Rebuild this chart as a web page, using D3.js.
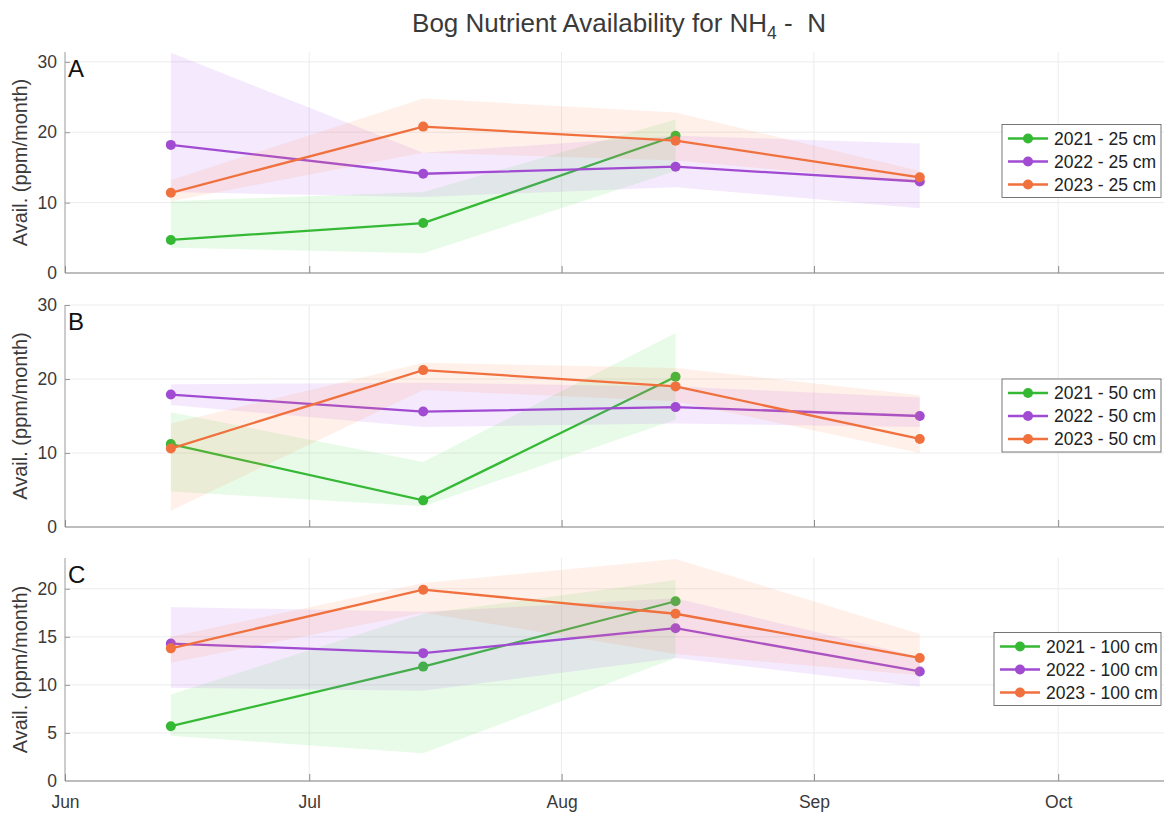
<!DOCTYPE html>
<html>
<head>
<meta charset="utf-8">
<script src="https://cdn.jsdelivr.net/npm/d3@7"></script>
<style>
  html, body { margin: 0; padding: 0; background: #fff; }
  svg { display: block; font-family: "Liberation Sans", Arial, Helvetica, sans-serif; }
  .keep-space { white-space: pre; }
</style>
</head>
<body>
<svg id="chart" width="1166" height="813"></svg>
<script>
// Sampling dates (month-day) shared by every year and depth
const sampleDates = ["06-14", "07-15", "08-15", "09-14"];
const years = ["2021", "2022", "2023"];
const depths = ["25 cm", "50 cm", "100 cm"];
const panelLetters = ["A", "B", "C"];
const monthTicks = ["06-01", "07-01", "08-01", "09-01", "10-01"];
const monthLabels = ["Jun", "Jul", "Aug", "Sep", "Oct"];
const yTicksA = [0, 10, 20, 30];
const yTicksB = [0, 10, 20, 30];
const yTicksC = [0, 5, 10, 15, 20];
const yMaxA = 31.4, yMaxB = 30, yMaxC = 23.2;

// 25 cm: mean and spread bounds, rows = 2021, 2022, 2023
const mean25  = [[4.7, 7.1, 19.5, null], [18.2, 14.1, 15.1, 13.0], [11.4, 20.8, 18.8, 13.6]];
const lower25 = [[3.6, 2.8, 14.5, null], [11.5, 10.8, 12.2, 9.2], [10.2, 17.1, 16.0, 12.8]];
const upper25 = [[10.2, 11.5, 21.8, null], [31.3, 17.1, 19.5, 18.4], [13.2, 24.8, 22.8, 14.5]];

// 50 cm
const mean50  = [[11.2, 3.6, 20.3, null], [17.9, 15.6, 16.2, 15.0], [10.6, 21.2, 19.0, 11.9]];
const lower50 = [[4.8, 2.8, 14.5, null], [16.5, 13.5, 14.0, 13.5], [2.2, 18.5, 17.0, 10.0]];
const upper50 = [[15.5, 8.8, 26.2, null], [19.3, 19.5, 19.0, 17.5], [14.0, 22.2, 21.5, 17.8]];

// 100 cm
const mean100  = [[5.7, 11.9, 18.7, null], [14.3, 13.3, 15.9, 11.4], [13.8, 19.9, 17.4, 12.8]];
const lower100 = [[4.7, 2.9, 12.8, null], [9.7, 9.4, 12.8, 9.8], [12.3, 17.5, 13.2, 11.0]];
const upper100 = [[9.0, 17.4, 20.9, null], [18.1, 17.6, 19.0, 12.9], [15.0, 20.6, 23.1, 15.3]];

const seriesColors = ["#35b935", "#a04bd2", "#f0703e"];
const fillColors = ["#4ee04e", "#b45cf0", "#ff8a55"];

const panels = [
  { letter: panelLetters[0], depth: depths[0], mean: mean25, lower: lower25, upper: upper25, ticks: yTicksA, yMax: yMaxA, top: 52, bottom: 273 },
  { letter: panelLetters[1], depth: depths[1], mean: mean50, lower: lower50, upper: upper50, ticks: yTicksB, yMax: yMaxB, top: 305, bottom: 527 },
  { letter: panelLetters[2], depth: depths[2], mean: mean100, lower: lower100, upper: upper100, ticks: yTicksC, yMax: yMaxC, top: 558, bottom: 781 }
];

const parseMD = md => d3.timeParse("%Y-%m-%d")("2022-" + md);
const svg = d3.select("#chart");
const left = 65, right = 1164;

const x = d3.scaleTime()
  .domain([parseMD("06-01"), parseMD("10-14")])
  .range([left, right]);

const textColor = "#3a3a3a";

// Title with subscript
const title = svg.append("text")
  .attr("class", "keep-space")
  .attr("x", 619).attr("y", 32)
  .attr("text-anchor", "middle")
  .attr("font-size", 26)
  .attr("fill", textColor);
title.append("tspan").text("Bog Nutrient Availability for NH");
title.append("tspan").attr("font-size", 17.5).attr("dy", 7).text("4");
title.append("tspan").attr("dy", -7).text(" -  N");

panels.forEach((p, pi) => {
  const y = d3.scaleLinear().domain([0, p.yMax]).range([p.bottom, p.top]);
  const g = svg.append("g");

  // grid
  g.selectAll(".hgrid").data(p.ticks.filter(t => t > 0)).join("line")
    .attr("x1", left).attr("x2", right)
    .attr("y1", d => y(d)).attr("y2", d => y(d))
    .attr("stroke", "#ececec").attr("stroke-width", 1);
  g.selectAll(".vgrid").data(monthTicks.slice(1)).join("line")
    .attr("x1", d => x(parseMD(d))).attr("x2", d => x(parseMD(d)))
    .attr("y1", p.top).attr("y2", p.bottom)
    .attr("stroke", "#ececec").attr("stroke-width", 1);

  // y axis
  const yAxis = d3.axisLeft(y).tickValues(p.ticks).tickSize(-5).tickPadding(8).tickFormat(d3.format("d"));
  const ya = g.append("g").attr("transform", `translate(${left},0)`).call(yAxis);
  ya.select(".domain").attr("stroke", "#9a9a9a").attr("stroke-width", 1)
    .attr("d", `M0,${p.top}V${p.bottom}`);
  ya.selectAll(".tick line").attr("stroke", "#9a9a9a");
  ya.selectAll(".tick text").attr("font-size", 17.5).attr("fill", textColor)
    .attr("font-family", "Liberation Sans, Arial, sans-serif");

  // x axis
  const xAxis = d3.axisBottom(x).tickValues(monthTicks.map(parseMD)).tickSize(-7).tickPadding(15)
    .tickFormat((d, i) => pi === 2 ? monthLabels[i] : "");
  const xa = g.append("g").attr("transform", `translate(0,${p.bottom})`).call(xAxis);
  xa.select(".domain").attr("stroke", "#bdbdbd").attr("stroke-width", 2)
    .attr("d", `M${left},0H${right}`);
  xa.selectAll(".tick line").attr("stroke", "#8a8a8a");
  xa.selectAll(".tick text").attr("font-size", 17.5).attr("fill", textColor)
    .attr("font-family", "Liberation Sans, Arial, sans-serif");

  // y label
  svg.append("text")
    .attr("transform", `translate(27,${(p.top + p.bottom) / 2}) rotate(-90)`)
    .attr("text-anchor", "middle")
    .attr("font-size", 20)
    .attr("fill", textColor)
    .text("Avail. (ppm/month)");

  // panel letter
  svg.append("text")
    .attr("x", 68).attr("y", p.top + 25)
    .attr("font-size", 24)
    .attr("fill", "#111")
    .text(p.letter);

  const area = d3.area()
    .defined(d => d.m !== null)
    .x(d => x(d.date)).y0(d => y(d.lo)).y1(d => y(d.hi));
  const line = d3.line()
    .defined(d => d.m !== null)
    .x(d => x(d.date)).y(d => y(d.m));

  years.forEach((yr, si) => {
    const pts = sampleDates.map((md, k) => ({
      date: parseMD(md), m: p.mean[si][k], lo: p.lower[si][k], hi: p.upper[si][k]
    }));
    g.append("path").datum(pts)
      .attr("d", area)
      .attr("fill", fillColors[si]).attr("fill-opacity", 0.13)
      .attr("stroke", "none");
    g.append("path").datum(pts)
      .attr("d", line)
      .attr("fill", "none").attr("stroke", seriesColors[si]).attr("stroke-width", 2.3);
    g.selectAll(null).data(pts.filter(d => d.m !== null)).join("circle")
      .attr("cx", d => x(d.date)).attr("cy", d => y(d.m)).attr("r", 5)
      .attr("fill", seriesColors[si]);
  });

  // legend
  const rowH = 23;
  const lgTop = (p.top + p.bottom) / 2 - 37 + (pi === 0 ? -1 : 0);
  const lgLeft = pi === 2 ? 994 : 1002;
  const lg = svg.append("g");
  lg.append("rect")
    .attr("x", lgLeft).attr("y", lgTop)
    .attr("width", 1161 - lgLeft).attr("height", 73)
    .attr("fill", "#fff").attr("stroke", "#555").attr("stroke-width", 0.8);
  years.forEach((yr, si) => {
    const cy = lgTop + 14 + si * rowH;
    const x0 = lgLeft + 6, x1 = lgLeft + 46;
    lg.append("line").attr("x1", x0).attr("x2", x1).attr("y1", cy).attr("y2", cy)
      .attr("stroke", seriesColors[si]).attr("stroke-width", 2.3);
    lg.append("circle").attr("cx", (x0 + x1) / 2).attr("cy", cy).attr("r", 5)
      .attr("fill", seriesColors[si]);
    lg.append("text").attr("x", x1 + 6).attr("y", cy + 6)
      .attr("font-size", 17.5).attr("fill", "#222")
      .text(`${yr} - ${p.depth}`);
  });
});
</script>
</body>
</html>
